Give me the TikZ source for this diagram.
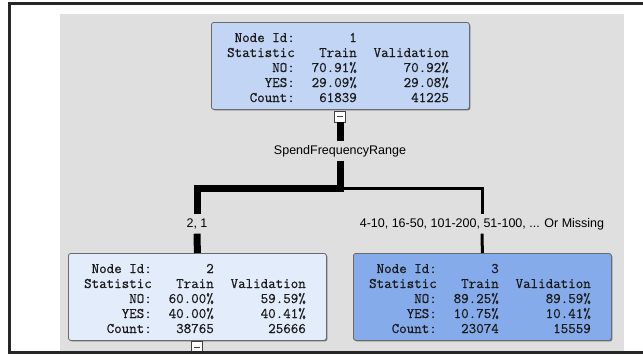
\documentclass[tikz,border=0pt]{standalone}
\usepackage{fontspec}
\usetikzlibrary{shadows}
\newfontfamily\monof[FakeBold=0.6]{Latin Modern Mono}
\newfontfamily\lblf{Liberation Sans}
\definecolor{bgc}{HTML}{DFDFDF}
\definecolor{fillA}{HTML}{C2D5F4}
\definecolor{fillB}{HTML}{E3ECFA}
\definecolor{fillC}{HTML}{86ABEB}
\definecolor{bordc}{HTML}{6A6A6A}
\definecolor{textc}{HTML}{1A1A1A}
\tikzset{
  statbox/.style={draw=bordc, line width=0.8pt, rounded corners=2.5pt, inner sep=0pt,
    minimum width=258pt, minimum height=87pt, anchor=north west,
    drop shadow={shadow xshift=1pt, shadow yshift=-1pt, fill=black!55, opacity=1}},
  cell/.style={anchor=base east, inner sep=0pt, text=textc,
    font=\monof\fontsize{14.6}{15}\selectfont},
  lbl/.style={anchor=base, inner xsep=2pt, inner ysep=4pt, text height=9pt, text depth=2.5pt,
    font=\lblf\fontsize{12.5}{14}\selectfont},
  thickedge/.style={line width=7pt, line join=miter},
  thinedge/.style={line width=3pt, line join=miter},
  minusbox/.style={draw=black!75, fill=white, line width=0.8pt, minimum size=11pt, inner sep=0pt,
    path picture={\draw[line width=1pt] ([xshift=-3pt]path picture bounding box.center) -- ([xshift=3pt]path picture bounding box.center);}}
}
\newcommand\strow[5]{%
  \path (#1.north west) ++(84,20+15*#2) node[cell] (#1-l#2) {#3}
        (#1.north west) ++(146,20+15*#2) node[cell] (#1-t#2) {#4}
        (#1.north west) ++(238,20+15*#2) node[cell] (#1-v#2) {#5};}
\newcommand\idrow[2]{%
  \path (#1.north west) ++(84,20) node[cell] (#1-l0) {Node Id:}
        (#1.north west) ++(146,20) node[cell] (#1-t0) {#2};}
\begin{document}
\begin{tikzpicture}[x=1pt,y=-1pt]
\useasboundingbox (0,0) rectangle (643,356);
\fill[white] (0,0) rectangle (643,356);
\fill[bgc] (60,14) rectangle (624,352);

% boxes
\node[statbox, fill=fillA] (n1) at (211,22) {};
\node[statbox, fill=fillB] (n2) at (68,253) {};
\node[statbox, fill=fillC] (n3) at (353,253) {};

\idrow{n1}{1}
\strow{n1}{1}{Statistic}{Train}{Validation}
\strow{n1}{2}{NO:}{70.91\%}{70.92\%}
\strow{n1}{3}{YES:}{29.09\%}{29.08\%}
\strow{n1}{4}{Count:}{61839}{41225}

\idrow{n2}{2}
\strow{n2}{1}{Statistic}{Train}{Validation}
\strow{n2}{2}{NO:}{60.00\%}{59.59\%}
\strow{n2}{3}{YES:}{40.00\%}{40.41\%}
\strow{n2}{4}{Count:}{38765}{25666}

\idrow{n3}{3}
\strow{n3}{1}{Statistic}{Train}{Validation}
\strow{n3}{2}{NO:}{89.25\%}{89.59\%}
\strow{n3}{3}{YES:}{10.75\%}{10.41\%}
\strow{n3}{4}{Count:}{23074}{15559}

% minus boxes
\node[minusbox] (m1) at (340,116.5) {};
\node[minusbox] (m2) at (197,347) {};

% labels
\node[lbl] (lab1) at (340,154) {SpendFrequencyRange};
\node[lbl] (lab2) at (197,227) {2, 1};
\node[lbl] (lab3) at (482,227) {4-10, 16-50, 101-200, 51-100, ... Or Missing};

\coordinate (j) at (340,188.5);

% connectors
\draw[thickedge] (m1.south) -- (lab1.north);
\draw[thinedge] (j) -| (lab3.north);
\draw[thickedge] (lab1.south) -- (j) -| (lab2.north);
\draw[thickedge] (lab2.south) -- (n2.north);
\draw[thinedge] (lab3.south) -- (n3.north);

% frame
\draw[line width=2.5pt, black!85] (643,3.7) -- (9.5,3.7) -- (9.5,352.5) -- (643,352.5);
\end{tikzpicture}
\end{document}
